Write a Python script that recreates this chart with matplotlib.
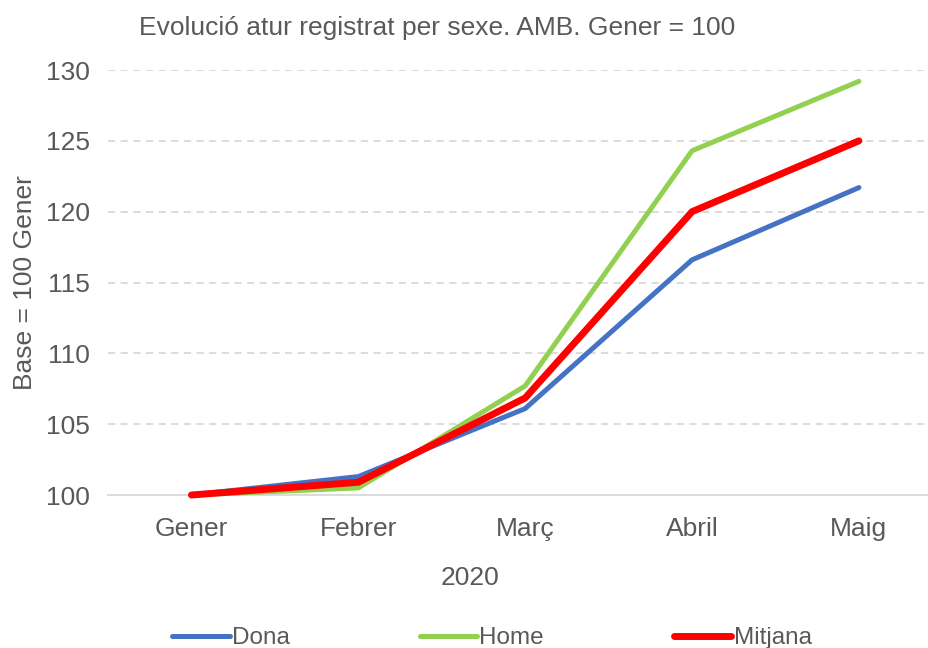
import matplotlib
matplotlib.use("Agg")
import matplotlib.pyplot as plt

plt.rcParams['font.family'] = ['Liberation Sans', 'DejaVu Sans']

months = ["Gener", "Febrer", "Març", "Abril", "Maig"]
dona = [100, 101.3, 106.1, 116.6, 121.7]
home = [100, 100.5, 107.7, 124.3, 129.2]
mitjana = [100, 100.9, 106.85, 120.0, 125.0]
yticks = [100, 105, 110, 115, 120, 125, 130]

gray = "#595959"
W, H = 929, 648
fig = plt.figure(figsize=(W/100, H/100), dpi=100)
ax = fig.add_axes([108/W, 1-495/H, 821/W, 425/H])

x = list(range(len(months)))
ax.plot(x, dona, color="#4472C4", lw=3.6, label="Dona", solid_capstyle="round", zorder=3, clip_on=False)
ax.plot(x, home, color="#92D050", lw=3.6, label="Home", solid_capstyle="round", zorder=3, clip_on=False)
ax.plot(x, mitjana, color="#FF0000", lw=5.0, label="Mitjana", solid_capstyle="round", zorder=4, clip_on=False)

ax.set_xlim(-0.5, 4.42)
ax.set_ylim(100, 130)
ax.set_yticks(yticks)
ax.set_xticks(x)
ax.set_xticklabels(months)
for s in ["top", "right", "left"]:
    ax.spines[s].set_visible(False)
ax.spines["bottom"].set_color("#D9D9D9")
ax.spines["bottom"].set_linewidth(1.3)
ax.tick_params(axis="both", length=0, labelsize=19, colors=gray)
ax.tick_params(axis="y", pad=13)
ax.tick_params(axis="x", pad=16)
ax.yaxis.grid(True, color="#D9D9D9", linestyle=(0, (4, 3)), linewidth=1.3)
ax.set_axisbelow(True)

fig.text(437/W, 1-28/H, "Evolució atur registrat per sexe. AMB. Gener = 100",
         ha="center", va="center", fontsize=19, color=gray)
fig.text(25/W, 1-283/H, "Base = 100 Gener", rotation=90, ha="center", va="center",
         fontsize=19, color=gray)
fig.text(470/W, 1-578/H, "2020", ha="center", va="center", fontsize=19, color=gray)

leg = fig.legend(loc="center", bbox_to_anchor=(492/W, 1-638/H), ncol=3, frameon=False,
                 fontsize=17.5, handlelength=2.35, handletextpad=0.1, columnspacing=5.35,
                 labelcolor=gray)

fig.savefig("out.png", dpi=100)
